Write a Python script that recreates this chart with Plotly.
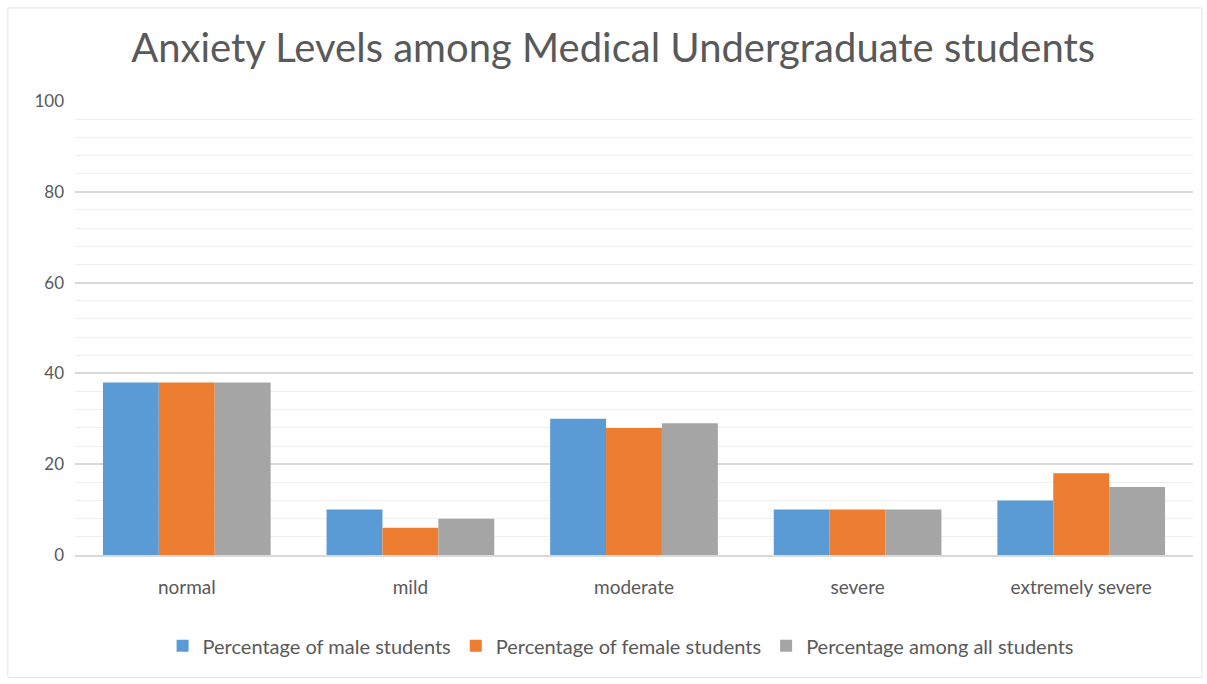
import plotly.graph_objects as go

categories = ["normal", "mild", "moderate", "severe", "extremely severe"]
male = [38, 10, 30, 10, 12]
female = [38, 6, 28, 10, 18]
all_students = [38, 8, 29, 10, 15]
series_names = ["Percentage of male students", "Percentage of female students", "Percentage among all students"]
colors = ["#5B9BD5", "#ED7D31", "#A5A5A5"]
y_ticks = [0, 20, 40, 60, 80, 100]

FONT = "Lato, 'Open Sans', sans-serif"

fig = go.Figure()
for name, vals, c in zip(series_names, [male, female, all_students], colors):
    fig.add_trace(go.Bar(x=categories, y=vals, name=name, marker=dict(color=c, line=dict(width=0))))

fig.update_layout(
    width=1207, height=684,
    paper_bgcolor="white", plot_bgcolor="white",
    margin=dict(l=75, r=14, t=101, b=129),
    barmode="group", bargap=0.25, bargroupgap=0,
    title=dict(text="Anxiety Levels among Medical Undergraduate students",
               x=0.508, xanchor="center", y=0.93, yanchor="middle",
               font=dict(family=FONT, size=40, color="#595959")),
    font=dict(family=FONT, size=15, color="#595959"),
    legend=dict(orientation="h", x=0.488, xanchor="center", y=-0.2, yanchor="middle",
                font=dict(family=FONT, size=20, color="#595959"),
                itemwidth=30, traceorder="normal"),
    showlegend=True,
)
fig.update_yaxes(range=[0, 100], tickvals=y_ticks, showgrid=True, gridcolor="#D9D9D9", gridwidth=1.5,
                 minor=dict(dtick=4, showgrid=True, gridcolor="#EFEFEF", gridwidth=1),
                 zeroline=False, showline=False, ticks="", ticklabelstandoff=10,
                 tickfont=dict(family=FONT, size=17, color="#595959"))
fig.update_xaxes(showline=True, linecolor="#D9D9D9", linewidth=1.5, ticks="",
                 tickfont=dict(family=FONT, size=19, color="#595959"), ticklabelstandoff=14)

fig.add_shape(type="rect", xref="paper", yref="paper", x0=-0.06, x1=1.008, y0=-0.27, y1=1.205,
              line=dict(color="#E3E3E3", width=1), fillcolor="rgba(0,0,0,0)", layer="below")

fig.write_html("out.html")
